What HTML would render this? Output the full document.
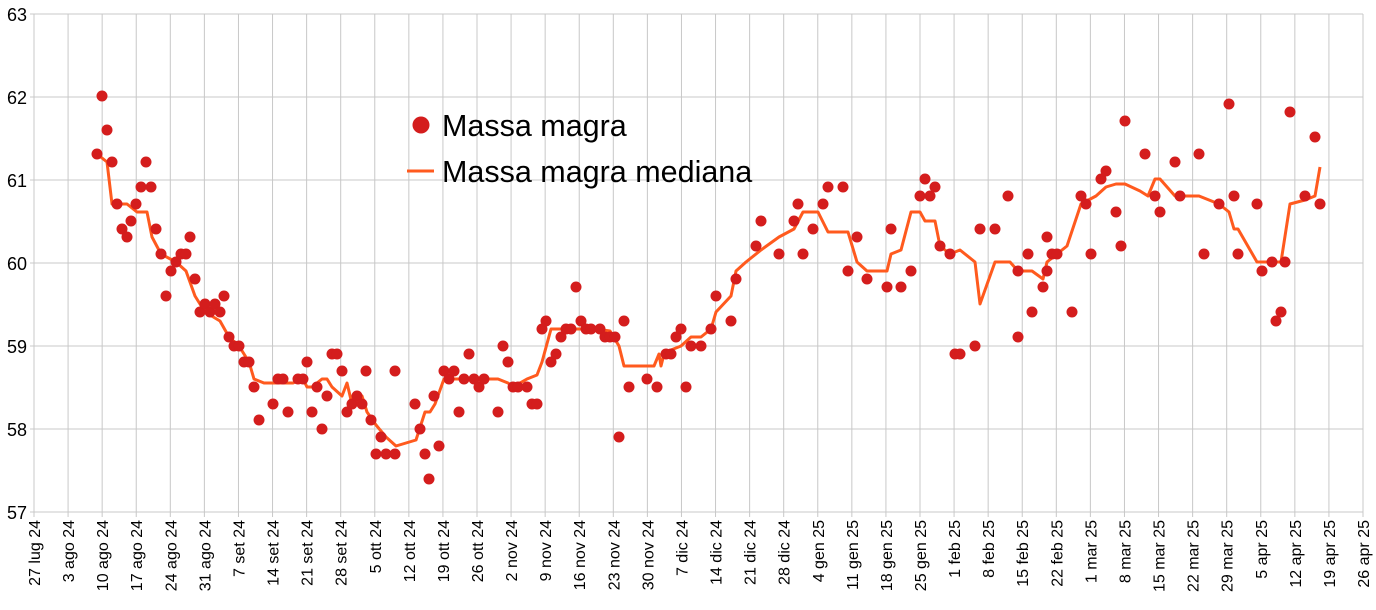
<!DOCTYPE html>
<html><head><meta charset="utf-8"><style>
html,body{margin:0;padding:0;background:#fff;}
svg{display:block;font-family:"Liberation Sans",Arial,sans-serif;}
</style></head><body>
<svg id="s" width="1376" height="610" xmlns="http://www.w3.org/2000/svg">
<g id="grid" stroke="#c8c8c8" stroke-width="1"></g>
<g id="yl" font-size="18" fill="#000" text-anchor="end"></g>
<g id="xl" font-size="16" fill="#000" text-anchor="end"></g>
<polyline id="ln" fill="none" stroke="#ff5a1e" stroke-width="3" stroke-linejoin="round"/>
<g id="pts" fill="#d41d1d"></g>
<circle cx="421" cy="125" r="8.5" fill="#d41d1d"/>
<text x="442" y="136" font-size="30.5">Massa magra</text>
<line x1="407" y1="171" x2="434" y2="171" stroke="#ff5a1e" stroke-width="3"/>
<text x="442" y="182" font-size="30.5">Massa magra mediana</text>
</svg>
<script>
const NS="http://www.w3.org/2000/svg";
function el(t,a,p,txt){const e=document.createElementNS(NS,t);for(const k in a)e.setAttribute(k,a[k]);if(txt)e.textContent=txt;document.getElementById(p).appendChild(e);}
const L=34,R=1363,T=14,B=512;
for(let i=0;i<=6;i++){const y=T+i*83;el('line',{x1:L-4,x2:R,y1:y,y2:y},'grid');el('text',{x:27,y:y+7},'yl',String(63-i));}
const labs=["27 lug 24","3 ago 24","10 ago 24","17 ago 24","24 ago 24","31 ago 24","7 set 24","14 set 24","21 set 24","28 set 24","5 ott 24","12 ott 24","19 ott 24","26 ott 24","2 nov 24","9 nov 24","16 nov 24","23 nov 24","30 nov 24","7 dic 24","14 dic 24","21 dic 24","28 dic 24","4 gen 25","11 gen 25","18 gen 25","25 gen 25","1 feb 25","8 feb 25","15 feb 25","22 feb 25","1 mar 25","8 mar 25","15 mar 25","22 mar 25","29 mar 25","5 apr 25","12 apr 25","19 apr 25","26 apr 25"];
labs.forEach((s,i)=>{const x=L+i*(R-L)/39;el('line',{x1:x,x2:x,y1:T,y2:B+5},'grid');el('text',{x:0,y:0,transform:`translate(${x+6},520) rotate(-90)`},'xl',s);});
const P=[[97,154],[102,96],[107,130],[112,162],[117,204],[122,229],[127,237],[131,221],[136,204],[141,187],[146,162],[151,187],[156,229],[161,254],[166,296],[171,271],[176,262],[181,254],[186,254],[190,237],[195,279],[200,312],[205,304],[210,312],[215,304],[220,312],[224,296],[229,337],[234,346],[239,346],[244,362],[249,362],[254,387],[259,420],[273,404],[278,379],[283,379],[288,412],[298,379],[303,379],[307,362],[312,412],[317,387],[322,429],[327,396],[332,354],[337,354],[342,371],[347,412],[352,404],[357,396],[362,404],[366,371],[371,420],[376,454],[381,437],[386,454],[395,454],[395,371],[415,404],[420,429],[425,454],[429,479],[434,396],[439,446],[444,371],[449,379],[454,371],[459,412],[464,379],[469,354],[474,379],[479,387],[484,379],[498,412],[503,346],[508,362],[513,387],[518,387],[527,387],[532,404],[537,404],[542,329],[546,321],[551,362],[556,354],[561,337],[566,329],[571,329],[576,287],[581,321],[586,329],[591,329],[600,329],[605,337],[610,337],[615,337],[619,437],[624,321],[629,387],[647,379],[657,387],[666,354],[671,354],[676,337],[681,329],[686,387],[691,346],[701,346],[711,329],[716,296],[731,321],[736,279],[756,246],[761,221],[779,254],[794,221],[798,204],[803,254],[813,229],[823,204],[828,187],[843,187],[848,271],[857,237],[867,279],[887,287],[891,229],[901,287],[911,271],[920,196],[925,179],[930,196],[935,187],[940,246],[950,254],[955,354],[960,354],[975,346],[980,229],[995,229],[1008,196],[1018,271],[1018,337],[1028,254],[1032,312],[1043,287],[1047,271],[1047,237],[1052,254],[1057,254],[1072,312],[1081,196],[1086,204],[1091,254],[1101,179],[1106,171],[1116,212],[1121,246],[1125,121],[1145,154],[1155,196],[1160,212],[1175,162],[1180,196],[1199,154],[1204,254],[1219,204],[1229,104],[1234,196],[1238,254],[1257,204],[1262,271],[1272,262],[1276,321],[1281,312],[1285,262],[1290,112],[1305,196],[1315,137],[1320,204]];
const Ln=[[97,154],[107,162],[112,204],[127,204],[137,212],[147,212],[152,237],[161,254],[176,262],[186,271],[195,296],[205,312],[220,321],[229,337],[239,346],[249,362],[254,379],[264,383],[283,383],[293,383],[303,379],[307,387],[312,387],[317,383],[322,379],[327,379],[332,387],[342,396],[347,383],[352,404],[362,396],[367,412],[376,425],[386,437],[396,446],[416,440],[425,412],[430,412],[435,404],[444,379],[459,379],[469,379],[484,379],[498,379],[508,383],[513,387],[527,379],[537,375],[542,362],[551,329],[561,329],[581,329],[596,329],[610,331],[619,346],[624,366],[644,366],[654,366],[659,354],[661,366],[664,354],[671,350],[681,346],[691,337],[701,337],[711,329],[716,312],[731,296],[736,271],[746,262],[761,250],[779,237],[794,229],[803,212],[818,212],[828,232],[848,232],[857,262],[867,271],[887,271],[891,254],[901,250],[911,212],[920,212],[925,221],[935,221],[940,246],[950,254],[960,250],[975,262],[980,304],[995,262],[1010,262],[1018,271],[1032,271],[1043,279],[1047,262],[1067,246],[1081,204],[1096,196],[1106,187],[1116,184],[1125,184],[1140,191],[1148,196],[1155,179],[1160,179],[1175,196],[1199,196],[1219,204],[1229,212],[1234,229],[1238,229],[1257,262],[1267,262],[1281,262],[1290,204],[1305,200],[1315,196],[1320,167]];
document.getElementById('ln').setAttribute('points',Ln.map(p=>p.join(',')).join(' '));
P.forEach(p=>el('circle',{cx:p[0],cy:p[1],r:5.5},'pts'));
</script>
</body></html>
